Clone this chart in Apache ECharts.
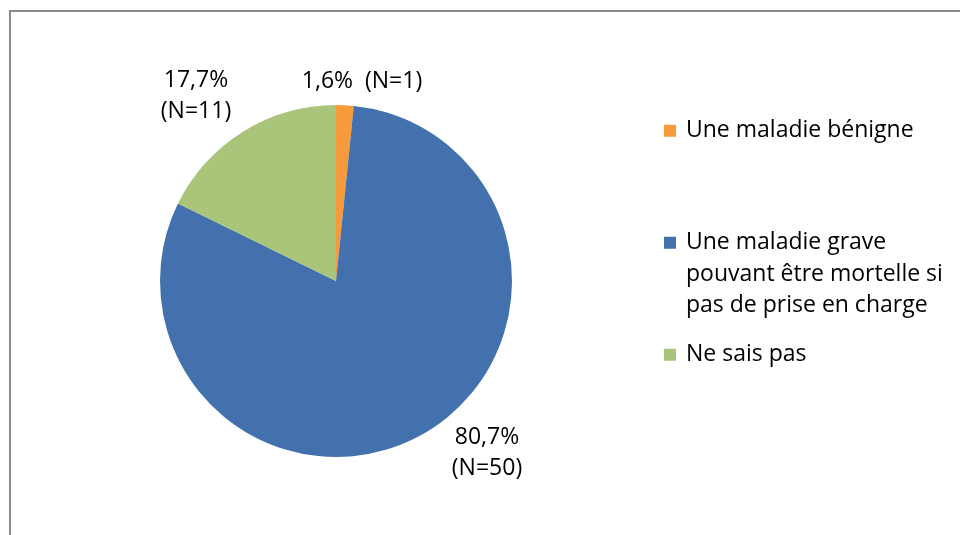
<!DOCTYPE html>
<html>
<head>
<meta charset="utf-8">
<script src="https://cdn.jsdelivr.net/npm/echarts@6/dist/echarts.min.js"></script>
<style>
  html, body { margin: 0; padding: 0; background: #fff; }
  #chart { width: 960px; height: 535px; }
</style>
</head>
<body>
<div id="chart"></div>
<script>
// data
const categories = [
  'Une maladie bénigne',
  'Une maladie grave pouvant être mortelle si pas de prise en charge',
  'Ne sais pas'
]
const counts = [1, 50, 11]
const percents = ['1,6%', '80,7%', '17,7%']
const colors = ['#f79a3c', '#4271ad', '#aac57a']

// legend line breaks as in the picture (two empty lines first so the
// square lines up with the first line of text)
const legendText = {
  'Une maladie bénigne': 'Une maladie bénigne',
  'Une maladie grave pouvant être mortelle si pas de prise en charge': '\n\nUne maladie grave\npouvant être mortelle si\npas de prise en charge',
  'Ne sais pas': 'Ne sais pas'
}

// where the data labels sit (label text only)
const labelPos = [
  { x: 362, y: 81 },
  { x: 487, y: 453 },
  { x: 196, y: 96 }
]

const font = '"Open Sans", Lato, sans-serif'

const chart = echarts.init(document.getElementById('chart'))

const makeLegend = (name, top) => ({
  data: [name],
  orient: 'vertical',
  left: 664,
  top: top,
  padding: 0,
  itemWidth: 22,
  itemHeight: 12,
  itemGap: 0,
  icon: 'path://M0,0H12V12H0Z',
  symbolKeepAspect: true,
  selectedMode: false,
  formatter: n => legendText[n],
  textStyle: {
    fontFamily: font,
    fontSize: 23,
    lineHeight: 31.5,
    color: '#000'
  }
})

const option = {
  backgroundColor: '#fff',
  animation: false,
  color: colors,
  graphic: [{
    type: 'rect',
    shape: { x: 10, y: 11, width: 980, height: 560 },
    style: { fill: 'none', stroke: '#8a8a8a', lineWidth: 2 },
    silent: true
  }],
  legend: [
    makeLegend(categories[0], 115),
    makeLegend(categories[1], 164),
    makeLegend(categories[2], 339)
  ],
  series: [{
    type: 'pie',
    center: [336, 281],
    radius: 176,
    startAngle: 90,
    clockwise: true,
    data: categories.map((c, i) => ({ name: c, value: counts[i] })),
    itemStyle: { borderWidth: 0 },
    label: {
      show: true,
      position: 'outside',
      fontFamily: font,
      fontSize: 23,
      lineHeight: 31,
      color: '#000',
      formatter: p => p.dataIndex === 0
        ? percents[0] + '  (N=' + counts[0] + ')'
        : percents[p.dataIndex] + '\n(N=' + counts[p.dataIndex] + ')'
    },
    labelLine: { show: false },
    labelLayout: p => ({
      x: labelPos[p.dataIndex].x,
      y: labelPos[p.dataIndex].y,
      align: 'center',
      verticalAlign: 'middle'
    }),
    emphasis: { disabled: true }
  }]
}

chart.setOption(option)
</script>
</body>
</html>
